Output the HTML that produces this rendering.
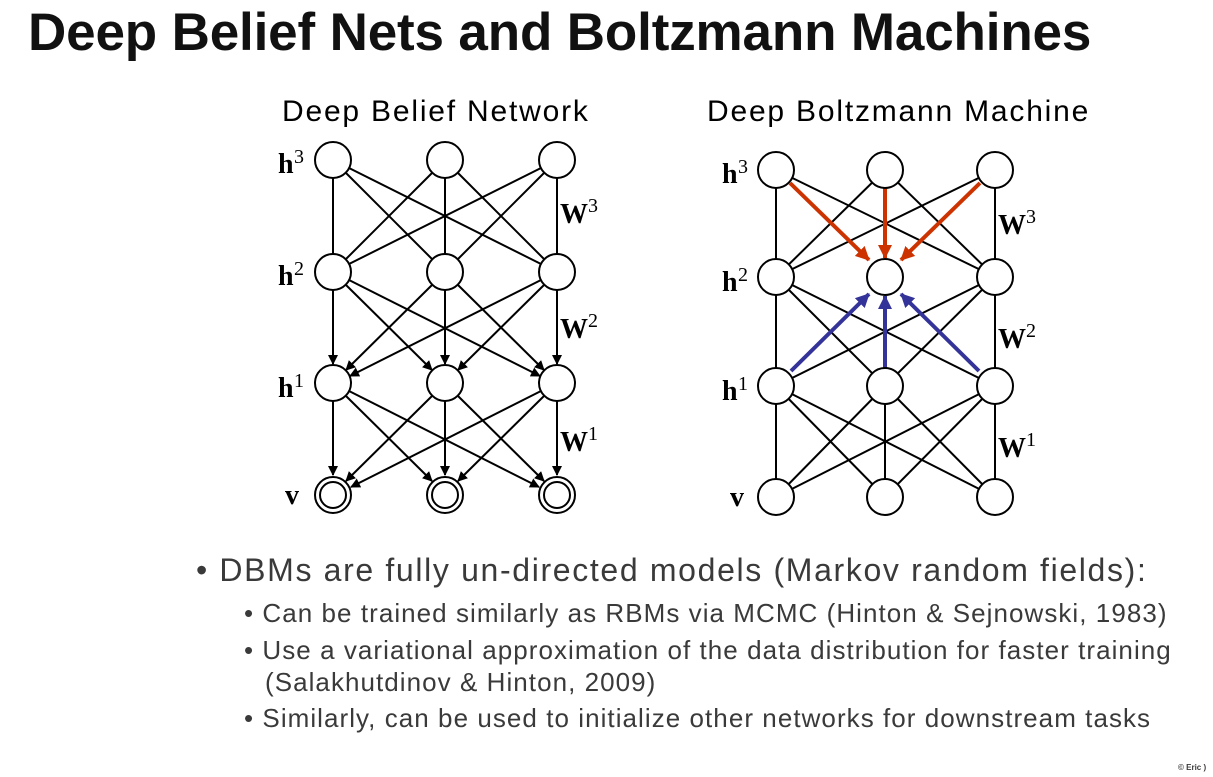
<!DOCTYPE html>
<html><head><style>
body{margin:0;width:1213px;height:777px;background:#fff;overflow:hidden;position:relative;font-family:"Liberation Sans",sans-serif;}
.t{position:absolute;left:28px;top:2px;font-size:53px;font-weight:bold;color:#111;letter-spacing:-0.15px;}
.b{position:absolute;color:#3a3a3a;white-space:nowrap;}
</style></head><body>
<div class="t">Deep Belief Nets and Boltzmann Machines</div>
<svg width="1213" height="777" style="position:absolute;left:0;top:0">
<defs>
<marker id="a" markerWidth="10" markerHeight="10" refX="9" refY="5" orient="auto" markerUnits="userSpaceOnUse"><path d="M0,0 L10,5 L0,10 z" fill="#000"/></marker>
<marker id="r" markerWidth="14" markerHeight="14" refX="13" refY="7" orient="auto" markerUnits="userSpaceOnUse"><path d="M0,0 L14,7 L0,14 z" fill="#cc3300"/></marker>
<marker id="u" markerWidth="14" markerHeight="14" refX="13" refY="7" orient="auto" markerUnits="userSpaceOnUse"><path d="M0,0 L14,7 L0,14 z" fill="#333399"/></marker>
</defs>
<text x="282" y="121" font-size="30" letter-spacing="1.8" font-family="Liberation Sans">Deep Belief Network</text>
<text x="707" y="121" font-size="30" letter-spacing="1.8" font-family="Liberation Sans">Deep Boltzmann Machine</text>
<g stroke="#000" stroke-width="2" fill="none">
<line x1="333" y1="160" x2="333" y2="272"/><line x1="333" y1="160" x2="445" y2="272"/><line x1="333" y1="160" x2="557" y2="272"/>
<line x1="445" y1="160" x2="333" y2="272"/><line x1="445" y1="160" x2="445" y2="272"/><line x1="445" y1="160" x2="557" y2="272"/>
<line x1="557" y1="160" x2="333" y2="272"/><line x1="557" y1="160" x2="445" y2="272"/><line x1="557" y1="160" x2="557" y2="272"/>
</g>
<g stroke="#000" stroke-width="2" fill="none" marker-end="url(#a)">
<line x1="333" y1="290" x2="333" y2="364"/><line x1="346" y1="285" x2="432" y2="370"/><line x1="349" y1="280" x2="540" y2="376"/>
<line x1="432" y1="285" x2="346" y2="370"/><line x1="445" y1="290" x2="445" y2="364"/><line x1="458" y1="285" x2="544" y2="370"/>
<line x1="541" y1="280" x2="350" y2="376"/><line x1="544" y1="285" x2="458" y2="370"/><line x1="557" y1="290" x2="557" y2="364"/>
<line x1="333" y1="401" x2="333" y2="475"/><line x1="346" y1="396" x2="432" y2="481"/><line x1="349" y1="391" x2="539" y2="487"/>
<line x1="432" y1="396" x2="346" y2="481"/><line x1="445" y1="401" x2="445" y2="475"/><line x1="458" y1="396" x2="544" y2="481"/>
<line x1="541" y1="391" x2="351" y2="487"/><line x1="544" y1="396" x2="458" y2="481"/><line x1="557" y1="401" x2="557" y2="475"/>
</g>
<g stroke="#000" stroke-width="2" fill="#fff">
<circle cx="333" cy="160" r="18"/><circle cx="445" cy="160" r="18"/><circle cx="557" cy="160" r="18"/>
<circle cx="333" cy="272" r="18"/><circle cx="445" cy="272" r="18"/><circle cx="557" cy="272" r="18"/>
<circle cx="333" cy="383" r="18"/><circle cx="445" cy="383" r="18"/><circle cx="557" cy="383" r="18"/>
<circle cx="333" cy="495" r="18"/><circle cx="445" cy="495" r="18"/><circle cx="557" cy="495" r="18"/>
<circle cx="333" cy="495" r="13"/><circle cx="445" cy="495" r="13"/><circle cx="557" cy="495" r="13"/>
</g>
<g stroke="#000" stroke-width="2" fill="none">
<line x1="776" y1="170" x2="776" y2="497"/><line x1="995" y1="170" x2="995" y2="497"/><line x1="885" y1="386" x2="885" y2="497"/>
<line x1="776" y1="170" x2="995" y2="277"/><line x1="885" y1="170" x2="776" y2="277"/><line x1="885" y1="170" x2="995" y2="277"/><line x1="995" y1="170" x2="776" y2="277"/>
<line x1="776" y1="277" x2="885" y2="386"/><line x1="776" y1="277" x2="995" y2="386"/><line x1="995" y1="277" x2="776" y2="386"/><line x1="995" y1="277" x2="885" y2="386"/>
<line x1="776" y1="386" x2="885" y2="497"/><line x1="776" y1="386" x2="995" y2="497"/><line x1="885" y1="386" x2="776" y2="497"/><line x1="885" y1="386" x2="995" y2="497"/><line x1="995" y1="386" x2="776" y2="497"/><line x1="995" y1="386" x2="885" y2="497"/>
</g>
<g stroke="#cc3300" stroke-width="4" fill="none" marker-end="url(#r)">
<line x1="790" y1="183" x2="869" y2="260"/><line x1="885" y1="188" x2="885" y2="258"/><line x1="980" y1="183" x2="901" y2="260"/>
</g>
<g stroke="#333399" stroke-width="4" fill="none" marker-end="url(#u)">
<line x1="791" y1="371" x2="869" y2="294"/><line x1="885" y1="368" x2="885" y2="296"/><line x1="979" y1="371" x2="901" y2="294"/>
</g>
<g stroke="#000" stroke-width="2" fill="#fff">
<circle cx="776" cy="170" r="18"/><circle cx="885" cy="170" r="18"/><circle cx="995" cy="170" r="18"/>
<circle cx="776" cy="277" r="18"/><circle cx="885" cy="277" r="18"/><circle cx="995" cy="277" r="18"/>
<circle cx="776" cy="386" r="18"/><circle cx="885" cy="386" r="18"/><circle cx="995" cy="386" r="18"/>
<circle cx="776" cy="497" r="18"/><circle cx="885" cy="497" r="18"/><circle cx="995" cy="497" r="18"/>
</g>
<g font-family="Liberation Serif" font-weight="bold" font-size="28" fill="#000">
<text x="278" y="173">h</text><text x="294" y="163" font-size="20" font-weight="normal">3</text>
<text x="278" y="285">h</text><text x="294" y="275" font-size="20" font-weight="normal">2</text>
<text x="278" y="397">h</text><text x="294" y="387" font-size="20" font-weight="normal">1</text>
<text x="285" y="504">v</text>
<text x="560" y="223">W</text><text x="588" y="212" font-size="20" font-weight="normal">3</text>
<text x="560" y="338">W</text><text x="588" y="327" font-size="20" font-weight="normal">2</text>
<text x="560" y="451">W</text><text x="588" y="440" font-size="20" font-weight="normal">1</text>
<text x="722" y="183">h</text><text x="738" y="173" font-size="20" font-weight="normal">3</text>
<text x="722" y="291">h</text><text x="738" y="281" font-size="20" font-weight="normal">2</text>
<text x="722" y="400">h</text><text x="738" y="390" font-size="20" font-weight="normal">1</text>
<text x="730" y="506">v</text>
<text x="998" y="234">W</text><text x="1026" y="223" font-size="20" font-weight="normal">3</text>
<text x="998" y="348">W</text><text x="1026" y="337" font-size="20" font-weight="normal">2</text>
<text x="998" y="457">W</text><text x="1026" y="446" font-size="20" font-weight="normal">1</text>
</g>
</svg>
<div class="b" style="left:196px;top:552px;font-size:32px;letter-spacing:1.65px;">• DBMs are fully un-directed models (Markov random fields):</div>
<div class="b" style="left:244px;top:598px;font-size:26px;letter-spacing:1.05px;">• Can be trained similarly as RBMs via MCMC (Hinton &amp; Sejnowski, 1983)</div>
<div class="b" style="left:244px;top:635px;font-size:26px;letter-spacing:1.05px;">• Use a variational approximation of the data distribution for faster training</div>
<div class="b" style="left:265px;top:667px;font-size:26px;letter-spacing:1.05px;">(Salakhutdinov &amp; Hinton, 2009)</div>
<div class="b" style="left:244px;top:703px;font-size:26px;letter-spacing:1.05px;">• Similarly, can be used to initialize other networks for downstream tasks</div>
<div class="b" style="left:1178px;top:763px;font-size:8px;font-weight:bold;">© Eric )</div>
</body></html>
